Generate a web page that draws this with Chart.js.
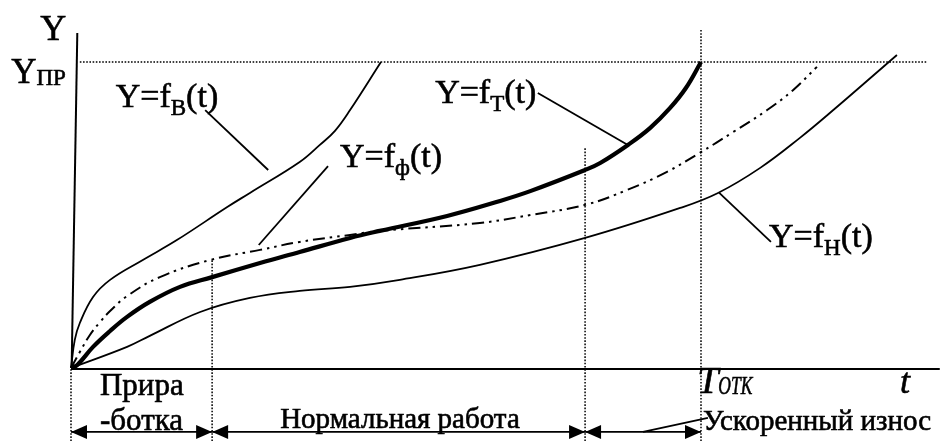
<!DOCTYPE html>
<html><head><meta charset="utf-8">
<script src="https://cdn.jsdelivr.net/npm/chart.js@4.4.1/dist/chart.umd.min.js"></script>
<style>html,body{margin:0;padding:0;background:#fff;overflow:hidden}#wrap{width:947px;height:441px;position:relative;background:#fff}
#probe{position:absolute;left:-999px;top:0;font-family:"Liberation Serif";font-size:30px}</style>
</head><body><div id="wrap"><canvas id="c" width="947" height="441"></canvas></div>
<div id="probe">Yf ПРабв <i>Tt ОТК</i></div>
<script>
// ---- data (t: % of T_OTK, Y: % of Y_PR) ----
const tT = [0, 1.0, 3.5, 6.2, 8.9, 12.5, 17.3, 22.4, 30.0, 36.3, 44.3, 49.0, 59.7, 68.1, 72.9, 81.6, 84.0, 88.4, 91.9, 95.1, 97.6, 100];
const yT = [0, 1.0, 6.9, 12.1, 16.7, 21.6, 26.5, 29.7, 34.3, 37.9, 42.5, 44.8, 49.7, 54.6, 57.8, 64.7, 67.0, 72.9, 78.4, 85.0, 91.5, 100];

const tB = [0, 0.6, 1.4, 3.5, 6.2, 11.4, 16.8, 24.8, 28.4, 36.3, 39.5, 41.9, 44.3, 49.2];
const yB = [0, 9.2, 14.7, 23.2, 28.8, 35.3, 41.8, 52.6, 57.2, 67.3, 72.9, 77.5, 84.3, 100];

const tF = [0, 1.4, 3.0, 4.6, 6.2, 8.9, 14.1, 22.1, 30.0, 36.3, 44.3, 49.0, 64.9, 72.9, 81.6, 88.3, 94.6, 99.8, 105.1, 110.5, 114.6, 118.4];
const yF = [0, 5.2, 10.8, 15.0, 18.6, 23.5, 29.7, 35.3, 38.6, 41.2, 43.5, 44.8, 47.4, 50.0, 53.3, 58.2, 64.1, 70.3, 77.1, 84.3, 90.8, 98.4];

const tH = [0, 8.9, 12.5, 20.5, 28.4, 36.3, 44.3, 52.2, 64.9, 81.6, 96.7, 102.7, 109.4, 115.7, 121.0, 131.1];
const yH = [0, 6.9, 10.5, 18.3, 22.9, 25.2, 26.5, 28.8, 33.7, 42.5, 52.3, 57.2, 65.4, 75.2, 84.3, 102.3];

const Y_PR = 100;
const T_OTK = 100;
const phaseBounds = [0, 22.4, 81.6, 100];   // приработка / нормальная / ускоренный
const phaseLevel = -20.9;
const guideBottom = -23.9;
const guideTops = [0, 35.3, 72.2, 110.8];    // tops of the vertical dotted lines
const yprLine = [1.4, 136.0];
const xAxisEnd = 137.9;
const yAxis = {t: [0.1, 1.0], y: [0, 109.5]};

// leader lines [t1, y1, t2, y2]
const leaderB = [21.3, 84.3, 31.3, 64.7];
const leaderF = [40.8, 66.0, 29.8, 40.2];
const leaderT = [74.1, 89.9, 88.4, 72.9];
const leaderH = [102.9, 57.2, 111.1, 41.2];
const leaderU = [90.8, -20.9, 101.1, -16.3];

// ---- layout mapping (pixel anchors) ----
const X0 = 71, Y0 = 368, XU = 6.3, YU = 3.06, W = 947, H = 441;

const pts = (ts, ys) => ts.map((t, i) => ({x: t, y: ys[i]}));
const seg = (a) => [{x: a[0], y: a[1]}, {x: a[2], y: a[3]}];

const curve = (data, w, dash) => ({data, showLine: true, borderColor: '#000', borderWidth: w, borderDash: dash || [],
  pointRadius: 0, tension: 0.4, fill: false, borderJoinStyle: 'round'});
const straight = (data, w, dash, extra) => Object.assign({data, showLine: true, borderColor: '#000', borderWidth: w,
  borderDash: dash || [], pointRadius: 0, tension: 0, fill: false, borderCapStyle: 'butt'}, extra || {});

const DOT = [1.6, 1.6];

const datasets = [
  // guides
  straight([{x: yprLine[0], y: Y_PR}, {x: yprLine[1], y: Y_PR}], 1.5, DOT),
  straight([{x: phaseBounds[0], y: guideBottom}, {x: phaseBounds[0], y: guideTops[0]}], 1.5, DOT),
  straight([{x: phaseBounds[1], y: guideBottom}, {x: phaseBounds[1], y: guideTops[1]}], 1.5, DOT),
  straight([{x: phaseBounds[2], y: guideBottom}, {x: phaseBounds[2], y: guideTops[2]}], 1.5, DOT),
  straight([{x: T_OTK, y: guideBottom}, {x: T_OTK, y: guideTops[3]}], 1.5, DOT),
  // axes
  straight([{x: 0, y: -0.3}, {x: xAxisEnd, y: -0.3}], 2),
  straight([{x: yAxis.t[0], y: yAxis.y[0]}, {x: yAxis.t[1], y: yAxis.y[1]}], 2),
  // curves
  curve(pts(tB, yB), 1.8),
  curve(pts(tH, yH), 1.8),
  curve(pts(tF, yF), 2, [12, 5, 2.5, 5, 2.5, 5]),
  curve(pts(tT, yT), 4.2),
  // leaders
  straight(seg(leaderB), 1.8),
  straight(seg(leaderF), 1.8),
  straight(seg(leaderT), 1.8),
  straight(seg(leaderH), 1.8),
  straight(seg(leaderU), 1.8),
  // phase arrows
  straight([{x: phaseBounds[0], y: phaseLevel}, {x: phaseBounds[1], y: phaseLevel}], 1.8, [], {arrows: true}),
  straight([{x: phaseBounds[1], y: phaseLevel}, {x: phaseBounds[2], y: phaseLevel}], 1.8, [], {arrows: true}),
  straight([{x: phaseBounds[2], y: phaseLevel}, {x: phaseBounds[3], y: phaseLevel}], 1.8, [], {arrows: true}),
];

// text labels: anchor = left/baseline in data units
const texts = [
  {t: -9.7, y: 126.0, parts: [{s: 'у'}], size: 34},
  {t: -4.9, y: 107.2, parts: [{s: 'Y'}], size: 36},
  {t: -9.5, y: 93.1, parts: [{s: 'Y'}, {s: 'ПР', sub: 1}], size: 35, subSize: 23, subDy: 2},
  {t: 7.1, y: 85.3, parts: [{s: 'Y=f'}, {s: 'B', sub: 1}, {s: '(t)'}], size: 34, subSize: 23, subDy: 8},
  {t: 42.7, y: 65.7, parts: [{s: 'Y=f'}, {s: 'ф', sub: 1}, {s: '(t)'}], size: 34, subSize: 23, subDy: 8},
  {t: 57.8, y: 86.6, parts: [{s: 'Y=f'}, {s: 'Т', sub: 1}, {s: '(t)'}], size: 34, subSize: 23, subDy: 8},
  {t: 110.8, y: 39.5, parts: [{s: 'Y=f'}, {s: 'Н', sub: 1}, {s: '(t)'}], size: 34, subSize: 23, subDy: 8},
  {t: 99.4, y: -8.2, parts: [{s: 'T'}, {s: 'ОТК', sub: 1}], size: 38, subSize: 25, subDy: 1, italic: 1, subSx: 0.7},
  {t: 131.6, y: -8.2, parts: [{s: 't'}], size: 36, italic: 1},
  {t: 4.6, y: -8.8, parts: [{s: 'Прира'}], size: 31},
  {t: 4.6, y: -20.3, parts: [{s: '-ботка'}], size: 31},
  {t: 33.2, y: -19.6, parts: [{s: 'Нормальная работа'}], size: 29},
  {t: 100.3, y: -20.3, parts: [{s: 'Ускоренный износ'}], size: 29},
];

const FONT = '"Liberation Serif", serif';

const overlay = {
  id: 'overlay',
  afterDatasetsDraw(chart) {
    const ctx = chart.ctx, xs = chart.scales.x, ys = chart.scales.y;
    ctx.save();
    // arrowheads
    chart.data.datasets.forEach((ds, i) => {
      if (!ds.arrows) return;
      const m = chart.getDatasetMeta(i).data;
      const a = m[0], b = m[m.length - 1];
      const tri = (tip, dir) => {
        ctx.beginPath();
        ctx.moveTo(tip.x, tip.y);
        ctx.lineTo(tip.x + dir * 16, tip.y - 7);
        ctx.lineTo(tip.x + dir * 16, tip.y + 7);
        ctx.closePath();
        ctx.fillStyle = '#000';
        ctx.fill();
      };
      tri(a, 1); tri(b, -1);
    });
    // texts
    ctx.fillStyle = '#000';
    ctx.strokeStyle = '#000';
    ctx.lineWidth = 0.6;
    ctx.textBaseline = 'alphabetic';
    ctx.textAlign = 'left';
    texts.forEach(L => {
      let x = xs.getPixelForValue(L.t), y = ys.getPixelForValue(L.y);
      L.parts.forEach(p => {
        const size = p.sub ? L.subSize : L.size;
        ctx.font = (L.italic ? 'italic ' : '') + size + 'px ' + FONT;
        const sx = p.sub ? (L.subSx || 1) : 1;
        ctx.save();
        ctx.translate(x, y + (p.sub ? L.subDy : 0));
        ctx.scale(sx, 1);
        ctx.fillText(p.s, 0, 0);
        ctx.strokeText(p.s, 0, 0);
        ctx.restore();
        x += ctx.measureText(p.s).width * sx;
      });
    });
    ctx.restore();
  }
};

function build() {
  new Chart(document.getElementById('c'), {
    type: 'scatter',
    data: {datasets},
    options: {
      responsive: false,
      animation: false,
      events: [],
      layout: {padding: 0},
      plugins: {legend: {display: false}, tooltip: {enabled: false}, title: {display: false}},
      scales: {
        x: {type: 'linear', display: false, min: -X0 / XU, max: (W - X0) / XU},
        y: {type: 'linear', display: false, min: -(H - Y0) / YU, max: Y0 / YU}
      }
    },
    plugins: [overlay]
  });
}
Promise.all([
  document.fonts.load('34px "Liberation Serif"'),
  document.fonts.load('italic 34px "Liberation Serif"')
]).catch(() => {}).then(build);
</script>
</body></html>
